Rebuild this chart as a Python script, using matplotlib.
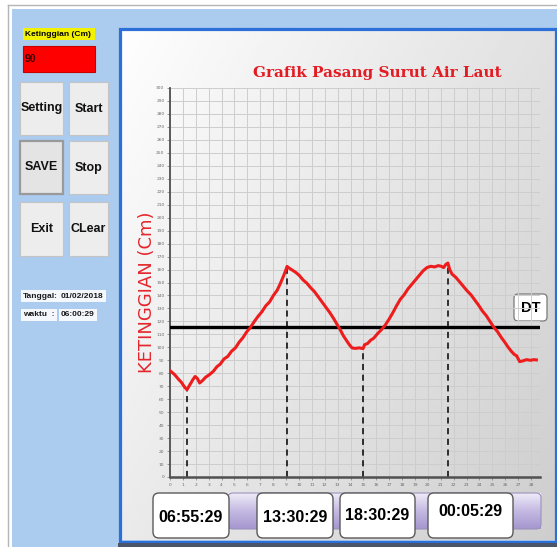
import numpy as np
import matplotlib
matplotlib.use("Agg")
import matplotlib.pyplot as plt
from matplotlib.patches import Rectangle, FancyBboxPatch
from matplotlib.colors import LinearSegmentedColormap

plt.rcParams['font.family'] = ['DejaVu Sans']

W, H = 557, 547

# ---------------- data ----------------
hours = [-0.15, 0.1, 0.35, 0.55, 0.75, 0.917, 1.1, 1.3, 1.45, 1.6, 1.75, 1.95, 2.15, 2.4,
         2.65, 2.88, 3.1, 3.35, 3.6, 3.85, 4.1, 4.35, 4.6, 4.85, 5.1, 5.35, 5.6, 5.85,
         6.1, 6.35, 6.6, 6.85, 7.05, 7.25, 7.4, 7.5, 7.65, 7.85, 8.05, 8.3, 8.55, 8.8,
         9.05, 9.3, 9.55, 9.8, 10.05, 10.3, 10.55, 10.8, 11.0, 11.2, 11.4, 11.6, 11.78,
         12.0, 12.25, 12.5, 12.6, 12.8, 13.0, 13.2, 13.45, 13.7, 13.95, 14.2, 14.45,
         14.7, 14.95, 15.2, 15.45, 15.7, 15.95, 16.2, 16.45, 16.7, 16.95, 17.2, 17.45,
         17.65, 17.8, 17.95, 18.083, 18.2, 18.35, 18.6, 18.85, 19.1, 19.35, 19.6, 19.85,
         20.1, 20.35, 20.6, 20.85, 21.1, 21.35, 21.6, 21.85, 22.05, 22.25, 22.45, 22.6,
         22.8, 23.0, 23.25, 23.5, 23.75, 23.9]
level = [81.5, 79, 75.5, 73, 69.5, 67.3, 71, 75, 77.5, 76, 72.5, 74.5, 77, 79,
         81.5, 85, 87, 91, 93, 97, 99.5, 104, 107.5, 112, 115.5, 120, 124, 127.5,
         132, 135, 140, 144, 149, 154.5, 159, 162.4, 161, 159.5, 158, 155.5, 152, 149.5,
         146, 143, 139, 135, 131, 127, 122.5, 117.5, 113.5, 109, 105.5, 102, 99.5,
         99.2, 99.6, 99, 102, 103, 105.5, 107, 110.5, 113.5, 117, 121.5, 126.5,
         132, 137, 140.5, 145, 148.5, 152, 155.5, 159, 161.5, 162.5, 162, 163,
         162.5, 161.5, 164, 165, 160, 156.5, 154, 150.5, 147, 143.5, 140.5, 136.5,
         132.5, 128, 124.5, 120, 115.5, 112, 107.5, 103.5, 100, 97, 94.5, 93.5,
         89, 89.5, 90.5, 90, 90.5, 90.3]

event_hours = [0.917, 7.5, 12.5, 18.083]
event_labels = ["06:55:29", "13:30:29", "18:30:29", "00:05:29"]
dt_level = 116
y_ticks = list(range(0, 301, 10))
x_tick_labels = [str(i) for i in range(29)]
current_level = "90"
tanggal = "01/02/2018"
waktu = "06:00:29"
button_rows = [("Setting", "Start"), ("SAVE", "Stop"), ("Exit", "CLear")]
title = "Grafik Pasang Surut Air Laut"
ylabel = "KETINGGIAN (Cm)"

# ---------------- figure ----------------
fig = plt.figure(figsize=(W / 100, H / 100), dpi=100)
fig.patch.set_facecolor('white')
bg = fig.add_axes([0, 0, 1, 1])
bg.axis('off')


def frac(x0, y0, x1, y1):
    return [x0 / W, 1 - y1 / H, (x1 - x0) / W, (y1 - y0) / H]


def rect(x0, y0, x1, y1, **kw):
    bg.add_patch(Rectangle((x0, y0), x1 - x0, y1 - y0, **kw))


def rbox(x0, y0, x1, y1, r=4, **kw):
    bg.add_patch(FancyBboxPatch((x0, y0), x1 - x0, y1 - y0,
                                boxstyle=f"round,pad=0,rounding_size={r}", **kw))


# window borders
bg.plot([8, 8], [5, H], color='#b5b5b5', lw=1)
bg.plot([8, W], [5, 5], color='#b5b5b5', lw=1)
rect(12, 9, W, H, facecolor='#abcbef', edgecolor='none')

# chart panel gradient
u = np.linspace(0, 1, 200)[None, :]
v = np.linspace(0, 1, 200)[:, None]
grad = 0.995 - 0.19 * (0.6 * u + 0.4 * v)
bg.imshow(grad, cmap='gray', vmin=0, vmax=1, extent=(121, W, 540, 30),
          aspect='auto', origin='upper', interpolation='bilinear', zorder=1)
rect(119.5, 28.5, W - 1.5, 541.5, facecolor='none', edgecolor='#2d6fd9', lw=2.3, zorder=3)
rect(118, 543, W, H, facecolor='#4a5668', edgecolor='none', zorder=3)

# title and y label
bg.text(377, 73, title, color='#e31b23', fontsize=11, fontweight='bold',
        family=['DejaVu Serif'], ha='center', va='center', zorder=5)
bg.text(147, 292, ylabel, color='#e5262c', fontsize=13, rotation=90,
        ha='center', va='center', zorder=5)

# bottom purple bar
pcm = LinearSegmentedColormap.from_list('lav', ['#efebf8', '#c4b9e2', '#a597cf'])
bg.imshow(np.linspace(0, 1, 50)[:, None], cmap=pcm, extent=(228, 541, 529, 493),
          aspect='auto', origin='upper', zorder=4)
rbox(228, 493, 541, 529, r=5, facecolor='none', edgecolor='#9c92bc', lw=0.8, zorder=4)

box_coords = [(153, 493, 229, 538), (257, 493, 333, 538), (340, 493, 415, 538), (428, 493, 513, 538)]
text_y = [517, 517, 515, 512]
for (x0, y0, x1, y1), lab, ty in zip(box_coords, event_labels, text_y):
    rbox(x0, y0, x1, y1, r=6, facecolor='white', edgecolor='#5a5a5a', lw=1.0, zorder=6)
    bg.text((x0 + x1) / 2, ty, lab, fontsize=11.5, fontweight='bold',
            family=['Liberation Sans'], ha='center', va='center', zorder=7)

# DT box
rbox(514, 294, 547, 321, r=4, facecolor='white', edgecolor='#7a7a7a', lw=0.9, zorder=6)
bg.text(530.5, 307.5, "DT", fontsize=10.5, fontweight='bold', family=['Liberation Sans'],
        ha='center', va='center', zorder=7)

# left panel widgets
rect(23, 28, 95, 40, facecolor='#f2f200', edgecolor='none', zorder=2)
bg.text(25, 34, "Ketinggian (Cm)", fontsize=6, fontweight='bold',
        family=['Liberation Sans'], ha='left', va='center', zorder=3)
rect(23, 46, 95, 72, facecolor='#ff0000', edgecolor='#c80000', lw=0.8, zorder=2)
bg.text(25, 59, current_level, fontsize=7.5, fontweight='bold', color='#3a0000',
        family=['Liberation Sans'], ha='left', va='center', zorder=3)

btn_rows_y = [(82, 135), (141, 194), (202, 256)]
btn_cols_x = [(20, 63), (69, 108)]
for (y0, y1), row in zip(btn_rows_y, button_rows):
    for (x0, x1), lab in zip(btn_cols_x, row):
        pressed = lab == "SAVE"
        rect(x0, y0, x1, y1, facecolor='#e4e4e4' if pressed else '#ededed',
             edgecolor='#9a9a9a' if pressed else '#c4c4c4', lw=1.6 if pressed else 0.8, zorder=2)
        bg.text((x0 + x1) / 2, (y0 + y1) / 2, lab, fontsize=9, fontweight='bold',
                family=['Liberation Sans'],
                ha='center', va='center', color='#111111', zorder=3)

info_kw = dict(fontsize=6, fontweight='bold', family=['Liberation Sans'],
               ha='left', va='center', color='#1a1a1a', zorder=3,
               bbox=dict(boxstyle='square,pad=0.25', facecolor='#f4f8fd', edgecolor='none'))
bg.text(23, 296, "Tanggal:", **info_kw)
bg.text(61, 296, tanggal, **info_kw)
bg.text(23, 315, "waktu  :", **info_kw)
bg.text(61, 315, waktu, **info_kw)

bg.set_xlim(0, W)
bg.set_ylim(H, 0)

# ---------------- chart ----------------
ax = fig.add_axes(frac(170, 88, 540, 477))
ax.patch.set_alpha(0)
ax.set_xlim(-0.2, 24.14)
ax.set_ylim(0, 300)
ax.set_yticks(y_ticks)
ax.set_yticklabels([str(t) for t in y_ticks])
ax.set_xticks(np.linspace(-0.2, 23.55, len(x_tick_labels)))
ax.set_xticklabels(x_tick_labels)
ax.tick_params(axis='both', labelsize=3.2, labelcolor='#6a6a6a', color='#8a8a8a',
               length=2, width=0.6, pad=2)
ax.grid(True, color='#cdcdcd', lw=0.7)
ax.set_axisbelow(True)
for s in ['top', 'right']:
    ax.spines[s].set_visible(False)
ax.spines['left'].set_color('#505050')
ax.spines['left'].set_linewidth(1.3)
ax.spines['bottom'].set_color('#505050')
ax.spines['bottom'].set_linewidth(1.8)

ax.axhline(dt_level, color='black', lw=2.4, zorder=3)
for h in event_hours:
    val = np.interp(h, hours, level)
    ax.vlines(h, 0, val, colors='black', linestyles=(0, (4, 3)), lw=1.1, zorder=2)
ax.plot(hours, level, color='#ee1c1c', lw=2.2, solid_joinstyle='round', zorder=4)

fig.savefig('out.png', dpi=100)
